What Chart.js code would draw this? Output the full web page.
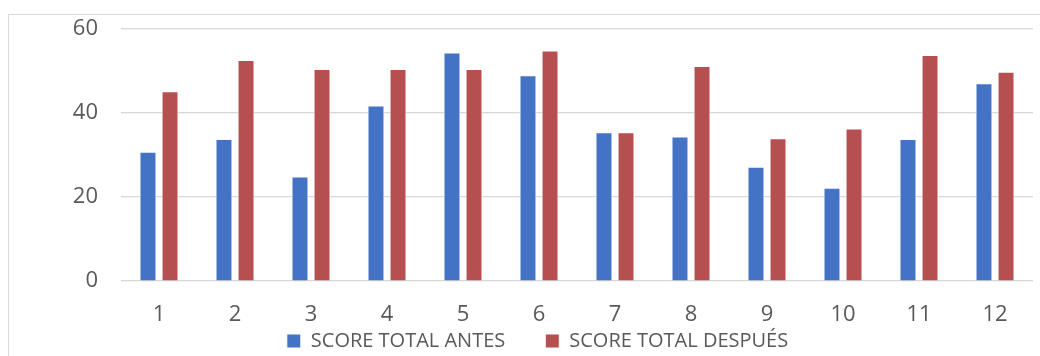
<!DOCTYPE html>
<html>
<head>
<meta charset="utf-8">
<script src="https://cdn.jsdelivr.net/npm/chart.js@4.4.1/dist/chart.umd.min.js"></script>
<style>
  html, body { margin: 0; padding: 0; background: #fff; }
  #wrap { position: relative; width: 1040px; height: 356px; overflow: hidden; }
  #frame { position: absolute; left: 8px; top: 14px; width: 1040px; height: 360px;
           border-left: 1.5px solid #d9d9d9; border-top: 1.5px solid #d9d9d9; }
  canvas { position: absolute; left: 0; top: 0; }
</style>
</head>
<body>
<div id="wrap">
  <div id="frame"></div>
  <canvas id="chart" width="1040" height="356"></canvas>
</div>
<script>
// values
const categories = ['1', '2', '3', '4', '5', '6', '7', '8', '9', '10', '11', '12'];
const scoreAntes = [30.8, 33.8, 24.9, 41.8, 54.4, 49.0, 35.4, 34.4, 27.2, 22.2, 33.8, 47.1];
const scoreDespues = [45.2, 52.6, 50.5, 50.5, 50.5, 54.9, 35.4, 51.2, 34.0, 36.3, 53.8, 49.8];
const yTicks = [0, 20, 40, 60];

const textColor = '#595959';
const fontFamily = '"Open Sans", sans-serif';

const ctx = document.getElementById('chart').getContext('2d');
new Chart(ctx, {
  type: 'bar',
  data: {
    labels: categories,
    datasets: [
      {
        label: 'SCORE TOTAL ANTES',
        data: scoreAntes,
        backgroundColor: '#4472C4',
        borderColor: '#ffffff',
        borderWidth: 1,
        categoryPercentage: 0.58,
        barPercentage: 0.77
      },
      {
        label: 'SCORE TOTAL DESPUÉS',
        data: scoreDespues,
        backgroundColor: '#B64F50',
        borderColor: '#ffffff',
        borderWidth: 1,
        categoryPercentage: 0.58,
        barPercentage: 0.77
      }
    ]
  },
  options: {
    responsive: false,
    animation: false,
    layout: { padding: { left: 42, right: 7, top: 29, bottom: 0 } },
    scales: {
      x: {
        grid: { display: false, drawTicks: false },
        border: { display: false },
        afterFit: (scale) => {
          // keep the axis box short so the legend sits close; let the labels spill below it
          scale.height = 10;
          scale._computeLabelArea = () => undefined;
        },
        ticks: { color: textColor, font: { family: fontFamily, size: 22 }, padding: 21 }
      },
      y: {
        min: 0,
        max: 60,
        afterBuildTicks: (scale) => { scale.ticks = yTicks.map(v => ({ value: v })); },
        afterFit: (scale) => { scale.width = 79; },
        // invisible tick marks give the gap between labels and plot (ticks.padding would also push the top down)
        grid: { color: '#d6d6d6', lineWidth: 1.2, drawTicks: true, tickLength: 23, tickColor: 'rgba(0,0,0,0)' },
        border: { display: false },
        ticks: { color: textColor, font: { family: fontFamily, size: 22 }, padding: 0 }
      }
    },
    plugins: {
      tooltip: { enabled: false },
      legend: {
        position: 'bottom',
        maxHeight: 65,
        labels: {
          color: textColor,
          font: { family: fontFamily, size: 20 },
          boxWidth: 14,
          boxHeight: 14,
          padding: 40
        }
      }
    }
  }
});
</script>
</body>
</html>
